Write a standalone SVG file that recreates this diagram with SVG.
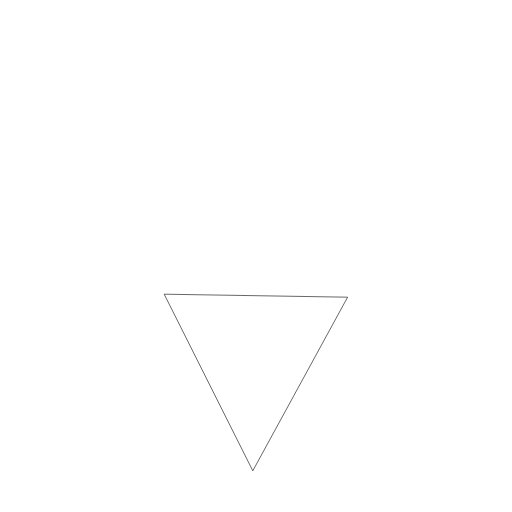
<svg xmlns="http://www.w3.org/2000/svg" width="512" height="512" viewBox="0 0 512 512">
<style>.s{fill:none;stroke:#000;stroke-width:0.6;stroke-linejoin:miter}</style>
<rect width="512" height="512" fill="#fff"/>
<g id="triangle">
<polygon class="s" points="164.2,294.2 347.6,297.2 252.8,470.8"/>
</g>
</svg>
